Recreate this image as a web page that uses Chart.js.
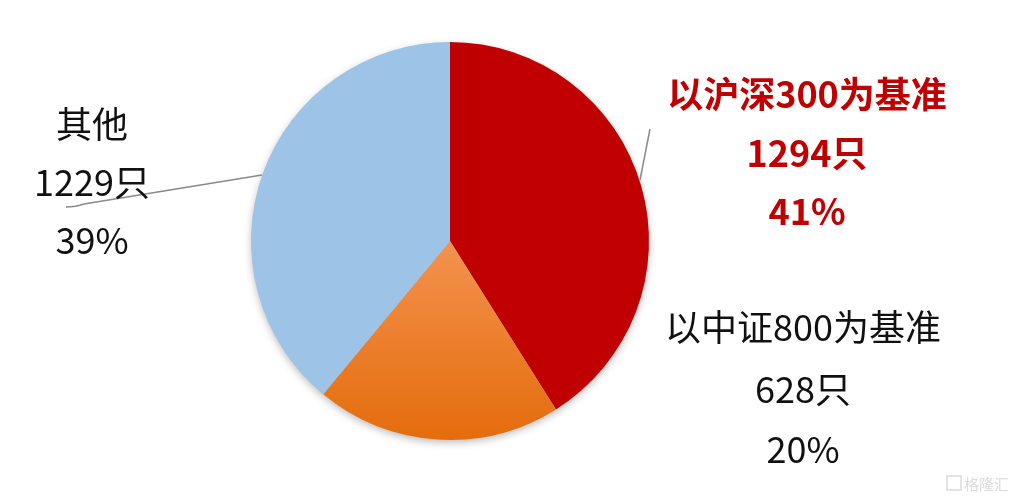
<!DOCTYPE html>
<html>
<head>
<meta charset="utf-8">
<script src="https://cdn.jsdelivr.net/npm/chart.js@4.4.0/dist/chart.umd.min.js"></script>
<style>
html,body{margin:0;padding:0;background:#fff;}
#wrap{width:1011px;height:499px;position:relative;}
</style>
</head>
<body>
<div id="wrap"><canvas id="c"></canvas></div>
<script>
const categories = ['以沪深300为基准', '以中证800为基准', '其他'];
const counts = [1294, 628, 1229];
const percentLabels = ['41%', '20%', '39%'];
const countLabels = ['1294只', '628只', '1229只'];
const baseColors = ['#C00000', '#EF7D31', '#9DC3E6'];

const FONT = '"Noto Sans CJK SC", "Noto Sans", sans-serif';

function sliceFill(ctx) {
  const i = ctx.dataIndex;
  if (i !== 1) return baseColors[i];
  const chart = ctx.chart;
  const a = chart.chartArea;
  if (!a) return baseColors[1];
  const cy = (a.top + a.bottom) / 2;
  const g = chart.ctx.createLinearGradient(0, cy, 0, cy + 200);
  g.addColorStop(0, '#F3924F');
  g.addColorStop(1, '#E46C0C');
  return g;
}

const shadowPlugin = {
  id: 'shadow',
  beforeDatasetsDraw(chart) {
    const arcs = chart.getDatasetMeta(0).data;
    if (!arcs.length) return;
    const a = arcs[0];
    const c = chart.ctx;
    c.save();
    c.shadowColor = 'rgba(0,0,0,0.30)';
    c.shadowBlur = 8;
    c.shadowOffsetX = 0;
    c.shadowOffsetY = 3;
    c.fillStyle = '#ccc';
    c.beginPath();
    c.arc(a.x, a.y, a.outerRadius - 1, 0, Math.PI * 2);
    c.fill();
    c.restore();
  }
};

const labelPlugin = {
  id: 'labels',
  afterDraw(chart) {
    const c = chart.ctx;
    const arcs = chart.getDatasetMeta(0).data;
    const cx = arcs[0].x, cy = arcs[0].y;
    c.save();
    // leader lines
    c.strokeStyle = '#8a8a8a';
    c.lineWidth = 1.5;
    c.beginPath();
    c.moveTo(cx + 190, cy - 61);
    c.lineTo(cx + 200, cy - 112);
    c.stroke();
    c.beginPath();
    c.moveTo(cx - 188, cy - 66);
    c.lineTo(cx - 366, cy - 37);
    c.quadraticCurveTo(cx - 374, cy - 34, cx - 384, cy - 34);
    c.stroke();

    c.textAlign = 'center';
    c.textBaseline = 'middle';
    // red block
    c.fillStyle = '#C00000';
    c.font = 'bold 36px ' + FONT;
    const rx = cx + 357;
    c.fillText(categories[0], rx, cy - 147);
    c.fillText(countLabels[0], rx, cy - 88);
    c.fillText(percentLabels[0], rx, cy - 30);
    // black block
    c.fillStyle = '#111';
    c.font = '36px ' + FONT;
    const bx = cx + 353;
    c.fillText(categories[1], bx, cy + 86);
    c.fillText(countLabels[1], bx, cy + 148);
    c.fillText(percentLabels[1], bx, cy + 208);
    // left block
    const lx = cx - 358;
    c.fillText(categories[2], lx, cy - 117);
    c.fillText(countLabels[2], lx, cy - 59);
    c.fillText(percentLabels[2], lx, cy - 1);

    // watermark
    c.globalAlpha = 0.35;
    c.strokeStyle = '#999';
    c.lineWidth = 1.5;
    c.strokeRect(947, 476, 14, 14);
    c.fillStyle = '#999';
    c.font = '15px ' + FONT;
    c.textAlign = 'left';
    c.fillText('格隆汇', 964, 484);
    c.restore();
  }
};

new Chart(document.getElementById('c'), {
  type: 'pie',
  data: {
    labels: categories,
    datasets: [{
      data: counts,
      backgroundColor: sliceFill,
      borderWidth: 0,
      hoverOffset: 0
    }]
  },
  options: {
    responsive: true,
    maintainAspectRatio: false,
    animation: false,
    radius: 199,
    rotation: 0,
    layout: { padding: { left: 0, right: 111, top: 0, bottom: 17 } },
    plugins: {
      legend: { display: false },
      tooltip: { enabled: false }
    }
  },
  plugins: [shadowPlugin, labelPlugin]
});
</script>
</body>
</html>
